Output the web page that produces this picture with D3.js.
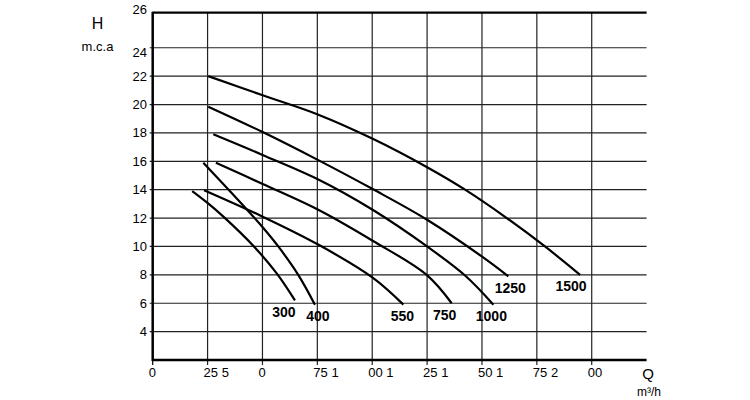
<!DOCTYPE html>
<html>
<head>
<meta charset="utf-8">
<script src="https://cdn.jsdelivr.net/npm/d3@7"></script>
<style>
  html, body { margin: 0; padding: 0; background: #fff; }
  svg { display: block; font-family: Arial, "Liberation Sans", sans-serif; }
</style>
</head>
<body>
<svg id="chart" width="750" height="400"></svg>
<script>
// ---- data ----
const seriesNames = ["300", "400", "550", "750", "1000", "1250", "1500"];
const curve300  = [[18,13.9],[25.1,13.05],[32.2,12.1],[45.8,10.05],[56.5,8.1],[64.8,6.2]];
const curve400  = [[23.05,15.9],[42.05,12.75],[50.1,11.35],[57.2,10],[66.3,8],[73.9,5.9]];
const curve550  = [[23.4,13.96],[50.1,12.1],[75.2,10.15],[100.2,7.8],[114.2,5.9]];
const curve750  = [[28.8,15.9],[50.1,14.4],[75.2,12.6],[100.2,10.4],[124.8,8.0],[136.2,6.0]];
const curve1000 = [[27.6,17.9],[50,16.45],[75,14.75],[100,12.6],[125,10.0],[142.3,7.95],[155.2,5.9]];
const curve1250 = [[25.3,19.85],[50.1,18.06],[75.2,16.1],[100,14.06],[124.8,11.9],[149.9,9.3],[162,7.9]];
const curve1500 = [[25.3,22.0],[50.1,20.65],[75.2,19.3],[100,17.6],[124.8,15.6],[142.3,14],[161.3,12],[178.7,10],[194.7,8]];
const seriesData = [curve300, curve400, curve550, curve750, curve1000, curve1250, curve1500];

const xTickValues = [0, 25, 50, 75, 100, 125, 150, 175, 200];
const xTickLabels = ["0", "25 5", "0", "75 1", "00 1", "25 1", "50 1", "75 2", "00"];
const yTickValues = [4, 6, 8, 10, 12, 14, 16, 18, 20, 22, 24];
const yTopLabel = "26";

// ---- layout ----
const labelNudge = [-11, 3, -1, -7, -2, 2, -9]; // horizontal nudges of curve labels (px)
const svg = d3.select("#chart");
const x = d3.scaleLinear().domain([0, 225]).range([152.7, 646.6]);
const y = d3.scaleLinear().domain([2, 26.47]).range([360, 12.7]);
const x0 = x(0), x1 = x(225), yb = y(2), yt = y(26.47);

// horizontal gridlines
svg.append("g").selectAll("line").data(yTickValues).join("line")
  .attr("x1", x0 - 3).attr("x2", x1)
  .attr("y1", d => y(d)).attr("y2", d => y(d))
  .attr("stroke", "#222").attr("stroke-width", 1.2);

// vertical gridlines
svg.append("g").selectAll("line").data(xTickValues.slice(1)).join("line")
  .attr("x1", d => x(d)).attr("x2", d => x(d))
  .attr("y1", yt).attr("y2", yb + 5)
  .attr("stroke", "#222").attr("stroke-width", 1.2);

// frame: left axis, bottom axis, top line
svg.append("line").attr("x1", x0).attr("x2", x0).attr("y1", yt - 1).attr("y2", yb + 1)
  .attr("stroke", "#000").attr("stroke-width", 2.5);
svg.append("line").attr("x1", x0).attr("x2", x1).attr("y1", yb).attr("y2", yb)
  .attr("stroke", "#000").attr("stroke-width", 2.5);
svg.append("line").attr("x1", x0).attr("x2", x1).attr("y1", yt).attr("y2", yt)
  .attr("stroke", "#000").attr("stroke-width", 2.2);
svg.append("line").attr("x1", x0).attr("x2", x0).attr("y1", yb).attr("y2", yb + 5)
  .attr("stroke", "#000").attr("stroke-width", 1.2);

// y tick labels
svg.append("g").selectAll("text").data(yTickValues).join("text")
  .attr("x", 147).attr("y", d => y(d)).attr("dy", d => d === 24 ? "0.7em" : "0.35em")
  .attr("text-anchor", "end").attr("font-size", 13).attr("fill", "#000")
  .text(d => d);
svg.append("text").attr("x", 147).attr("y", yt - 3).attr("dy", "0.35em")
  .attr("text-anchor", "end").attr("font-size", 13).text(yTopLabel);

// x tick labels
svg.append("g").selectAll("text").data(xTickValues).join("text")
  .attr("x", d => x(d) - 4).attr("y", 377)
  .attr("text-anchor", "start").attr("font-size", 13).attr("fill", "#000")
  .text((d, i) => xTickLabels[i]);

// axis titles
svg.append("text").attr("x", 97.5).attr("y", 28.5).attr("text-anchor", "middle")
  .attr("font-size", 16).text("H");
svg.append("text").attr("x", 97.5).attr("y", 50.5).attr("text-anchor", "middle")
  .attr("font-size", 13).text("m.c.a");
svg.append("text").attr("x", 648).attr("y", 378.5).attr("text-anchor", "middle")
  .attr("font-size", 15).text("Q");
svg.append("text").attr("x", 649).attr("y", 396).attr("text-anchor", "middle")
  .attr("font-size", 12).text("m³/h");

// curves
const line = d3.line().x(d => x(d[0])).y(d => y(d[1])).curve(d3.curveCatmullRom.alpha(0.5));
svg.append("g").selectAll("path").data(seriesData).join("path")
  .attr("d", line).attr("fill", "none").attr("stroke", "#000").attr("stroke-width", 2.2);

// curve labels
svg.append("g").selectAll("text").data(seriesData).join("text")
  .attr("x", (d, i) => x(d[d.length - 1][0]) + labelNudge[i])
  .attr("y", d => y(d[d.length - 1][1]) + 16.5)
  .attr("text-anchor", "middle").attr("font-size", 14).attr("font-weight", "bold")
  .text((d, i) => seriesNames[i]);
</script>
</body>
</html>
